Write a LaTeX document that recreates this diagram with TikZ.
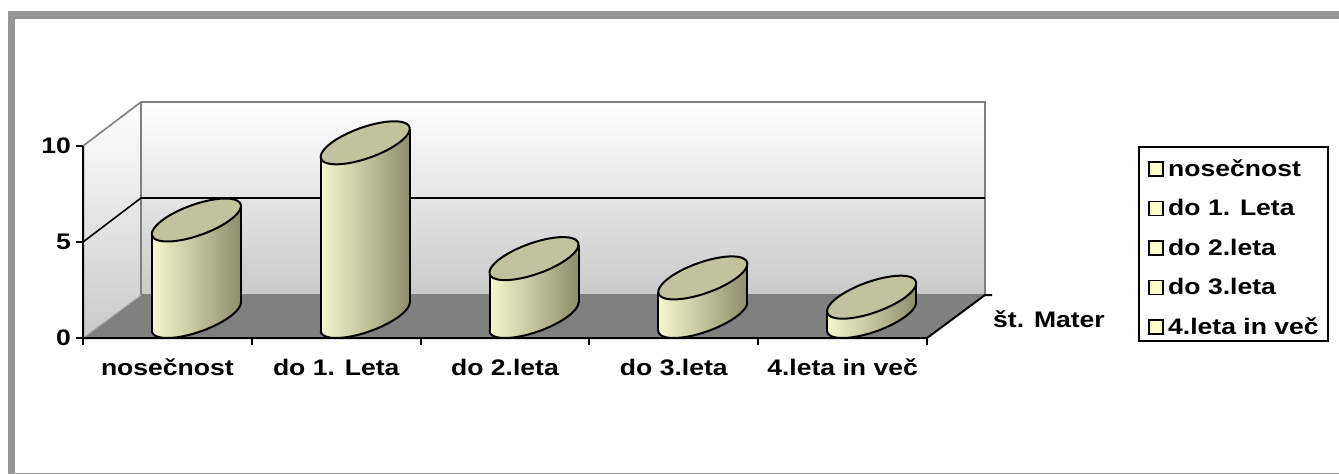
\documentclass[tikz,border=0pt]{standalone}
\usepackage{fontspec}
\setmainfont{Liberation Sans}[FakeStretch=1.18]
\usetikzlibrary{calc}
\definecolor{framegray}{HTML}{969696}
\definecolor{floorgray}{HTML}{808080}
\definecolor{barlight}{HTML}{F7F7CC}
\definecolor{barmid}{HTML}{D8D8AE}
\definecolor{bardark}{HTML}{8E8E6E}
\definecolor{bartopcol}{HTML}{C2C29E}
\definecolor{legfill}{HTML}{FFFFCC}
\tikzset{axisline/.style={black,line width=2pt}}
\tikzset{wallline/.style={floorgray,line width=1.6pt}}
\tikzset{barline/.style={black,line width=2pt,line join=round}}
\tikzset{mylabel/.style={font=\fontsize{22.5}{24}\selectfont\bfseries,inner sep=0pt}}

\begin{document}
\begin{tikzpicture}[x=1pt,y=-1pt]
	\useasboundingbox (0,0) rectangle (1339,474);
	\draw[framegray,line width=7.5pt] (11.5,15) rectangle (1360,476.5);

	% walls and floor
	\shade[top color=white,bottom color=gray!42] (141,102) rectangle (985,295);
	\shade[top color=white,bottom color=gray!42] (83,146) -- (141,102) -- (141,295) -- (83,338) -- cycle;
	\fill[floorgray] (83,338) -- (927,338) -- (985,295) -- (141,295) -- cycle;
	\draw[wallline] (83,146) -- (141,102) -- (985,102) -- (985,295);
	\draw[wallline] (141,102) -- (141,295) -- (985,295);
	\draw[gray!60,line width=1pt] (83,338) -- (141,295);
	\draw[black,line width=1.6pt] (83,242) -- (141,198) -- (985,198); % grid line

	% axes
	\draw[axisline] (83,146) -- (83,338) -- (927,338) -- (985,295) -- (992,295);
	\foreach \k in {0,...,5}
		\draw[axisline] ({83+\k*168.8},338) -- ++(0,7);
	\foreach \v/\yy in {0/338,5/242,10/146} {
		\draw[axisline] (76,\yy) -- (83,\yy);
		\node[mylabel,anchor=east] (ylab\v) at (71,\yy) {\v};
	}

	% cylinders
	\foreach \v [count=\i] in {5,9,3,2,1} {
		\pgfmathsetmacro{\cx}{83+(\i-0.5)*168.8+29}
		\pgfmathsetmacro{\ct}{316.5-19.3*\v}
		\shade[left color=barlight,middle color=barmid,right color=bardark]
			plot[domain=220.67:400.67,samples=40] ({\cx+33.75*cos(\x)+29*sin(\x)},{316.5-21.5*sin(\x)})
			-- plot[domain=400.67:220.67,samples=40] ({\cx+33.75*cos(\x)+29*sin(\x)},{\ct-21.5*sin(\x)}) -- cycle;
		\draw[barline] plot[domain=220.67:400.67,samples=40] ({\cx+33.75*cos(\x)+29*sin(\x)},{316.5-21.5*sin(\x)});
		\draw[barline] ({\cx-44.5},330.5) -- ({\cx-44.5},{\ct+14});
		\draw[barline] ({\cx+44.5},302.5) -- ({\cx+44.5},{\ct-14});
		\filldraw[barline,fill=bartopcol] plot[domain=0:360,samples=80] ({\cx+33.75*cos(\x)+29*sin(\x)},{\ct-21.5*sin(\x)}) -- cycle;
	}

	% category labels
	\foreach \t [count=\i] in {nosečnost,do 1. Leta,do 2.leta,do 3.leta,4.leta in več}
		\node[mylabel,anchor=base] (xlab\i) at ({83+(\i-0.5)*168.8},375) {\t};
	\node[mylabel,anchor=base west] (zlab) at (993,327) {št. Mater};

	% legend
	\draw[black,line width=1.5pt] (1139,147) rectangle (1328,341);
	\foreach \t [count=\i] in {nosečnost,do 1. Leta,do 2.leta,do 3.leta,4.leta in več} {
		\pgfmathsetmacro{\yb}{176+(\i-1)*39.5}
		\draw[black,line width=1.2pt,fill=legfill] (1149,\yb) rectangle ++(14,-14);
		\node[mylabel,anchor=base west] (leg\i) at (1168,\yb) {\t};
	}
\end{tikzpicture}
\end{document}
